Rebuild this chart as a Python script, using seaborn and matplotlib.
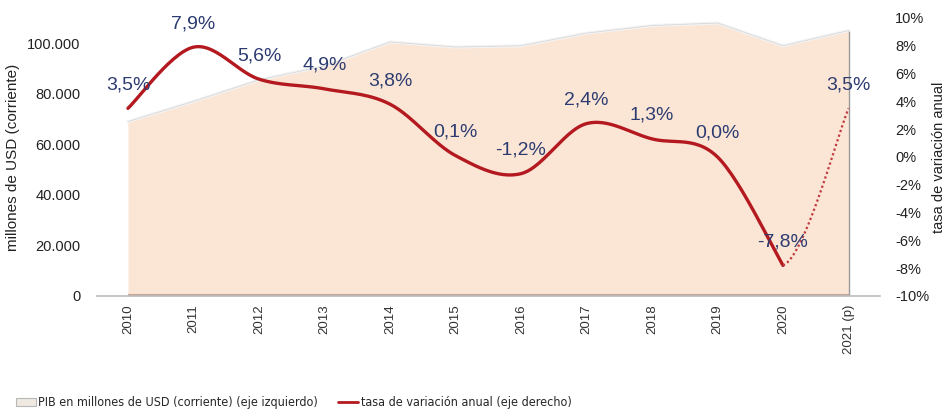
import numpy as np
import pandas as pd
import seaborn as sns
import matplotlib
matplotlib.use("Agg")
from matplotlib import pyplot as plt
from matplotlib.patches import Patch
from matplotlib.lines import Line2D
from matplotlib.ticker import FuncFormatter

# data
years = ["2010", "2011", "2012", "2013", "2014", "2015", "2016",
         "2017", "2018", "2019", "2020", "2021 (p)"]
pib = [69000, 77000, 85500, 91000, 100500, 98500, 99000,
       104000, 107000, 108000, 99000, 105000]
tasa = [3.5, 7.9, 5.6, 4.9, 3.8, 0.1, -1.2, 2.4, 1.3, 0.0, -7.8, 3.5]
tasa_labels = ["3,5%", "7,9%", "5,6%", "4,9%", "3,8%", "0,1%", "-1,2%",
               "2,4%", "1,3%", "0,0%", "-7,8%", "3,5%"]

sns.set_style("white")
plt.rcParams["font.family"] = ["Liberation Sans", "DejaVu Sans"]

df = pd.DataFrame({"year": years, "pib": pib, "tasa": tasa})
df["x"] = np.arange(len(df))


def smooth(xs, ys, n=30):
    # excel-like smoothed line (catmull-rom as bezier)
    xs = np.asarray(xs, float)
    ys = np.asarray(ys, float)
    px = np.concatenate([[xs[0]], xs, [xs[-1]]])
    py = np.concatenate([[ys[0]], ys, [ys[-1]]])
    t = np.linspace(0, 1, n)
    outx, outy = [], []
    for i in range(1, len(px) - 2):
        p0 = np.array([px[i], py[i]])
        p3 = np.array([px[i + 1], py[i + 1]])
        p1 = p0 + (p3 - np.array([px[i - 1], py[i - 1]])) / 6
        p2 = p3 - (np.array([px[i + 2], py[i + 2]]) - p0) / 6
        b = ((1 - t) ** 3)[:, None] * p0 + (3 * (1 - t) ** 2 * t)[:, None] * p1 \
            + (3 * (1 - t) * t ** 2)[:, None] * p2 + (t ** 3)[:, None] * p3
        outx.extend(b[:, 0])
        outy.extend(b[:, 1])
    return np.array(outx), np.array(outy)


fig = plt.figure(figsize=(9.46, 4.18), dpi=100)
ax = fig.add_axes([0.1025, 0.2919, 0.8277, 0.6651])

# area: PIB
ax.fill_between(df["x"], df["pib"], color="#fbe6d6", lw=0, zorder=1)
ax.plot(df["x"], df["pib"], color="#f4f4f4", lw=2.2, zorder=2)
ax.plot(df["x"], df["pib"], color="#d8d8d8", lw=0.6, zorder=2)
ax.vlines(df["x"].iloc[-1], 0, df["pib"].iloc[-1], color="#9a9a9a", lw=1, zorder=2)
ax.hlines(300, df["x"].iloc[0], df["x"].iloc[-1], color="#c9a79a", lw=1.5, zorder=2)

ax.set_xlim(-0.473, 11.48)
ax.set_ylim(0, 110000)
ax.set_yticks(range(0, 100001, 20000))
ax.yaxis.set_major_formatter(FuncFormatter(lambda v, p: f"{int(v):,}".replace(",", ".")))
ax.set_xticks(df["x"])
ax.set_xticklabels(years, rotation=90, fontsize=9.5, color="#333333")
ax.tick_params(axis="y", labelsize=10.5, colors="#222222", length=0, pad=12)
ax.tick_params(axis="x", length=0, pad=6)
ax.set_ylabel("millones de USD (corriente)", fontsize=11, color="#222222", labelpad=5)
for s in ["top", "left", "right"]:
    ax.spines[s].set_visible(False)
ax.spines["bottom"].set_color("#bbbbbb")
ax.spines["bottom"].set_linewidth(1.2)

# line: tasa de variacion (right axis)
ax2 = ax.twinx()
ax2.set_ylim(-10, 10)
ax2.set_yticks(range(-10, 11, 2))
ax2.set_yticklabels([f"{v}%" for v in range(-10, 11, 2)])
ax2.tick_params(axis="y", labelsize=10.5, colors="#222222", length=0, pad=11)
ax2.set_ylabel("tasa de variación anual", fontsize=10.5, color="#222222", labelpad=2)
for s in ["top", "left", "right", "bottom"]:
    ax2.spines[s].set_visible(False)

sx, sy = smooth(df["x"][:11], df["tasa"][:11])
smooth_df = pd.DataFrame({"x": sx, "y": sy})
sns.lineplot(data=smooth_df, x="x", y="y", ax=ax2, color="#b3191f", lw=2.4,
             sort=False, zorder=4)

# projected last segment, dotted
dx, dy = smooth(df["x"][9:], df["tasa"][9:])
m = dx >= 10
ax2.plot(dx[m], dy[m], color="#c0393e", lw=1.6, ls=(0, (1, 1.2)), zorder=4)

for xi, yi, lab in zip(df["x"], df["tasa"], tasa_labels):
    ax2.annotate(lab, (xi, yi), xytext=(0, 17), textcoords="offset points",
                 ha="center", va="center", fontsize=14, color="#2c3b70", zorder=5)
ax2.set_xlabel("")

handles = [Patch(facecolor="#efe9e2", edgecolor="#b8b8b8", lw=0.8),
           Line2D([0], [0], color="#b3191f", lw=2)]
fig.legend(handles, ["PIB en millones de USD (corriente) (eje izquierdo)",
                     "tasa de variación anual (eje derecho)"],
           loc="center left", bbox_to_anchor=(0.005, 0.036), ncol=2, frameon=False,
           prop={"family": "DejaVu Sans", "stretch": "condensed", "size": 9},
           handlelength=1.6, handletextpad=0.2, columnspacing=1.6)

fig.savefig("out.png", dpi=100)
